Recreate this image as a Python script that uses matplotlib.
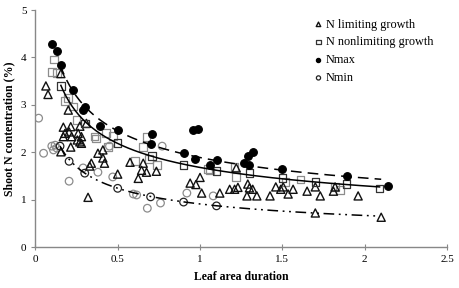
import numpy as np
import matplotlib
matplotlib.use("Agg")
import matplotlib.pyplot as plt

# N limiting growth (triangles)
tri_x = [0.064, 0.077, 0.155, 0.20, 0.17, 0.18, 0.17, 0.215, 0.205, 0.22, 0.26, 0.28, 0.27, 0.255,
         0.28, 0.215, 0.31, 0.155, 0.27, 0.34, 0.33, 0.32, 0.38, 0.41, 0.41, 0.42, 0.50, 0.575,
         0.655, 0.645, 0.625, 0.675, 0.735, 0.94, 0.975, 1.0, 1.01, 1.12, 1.18, 1.21, 1.23,
         1.22, 1.285, 1.29, 1.30, 1.32, 1.345, 1.425, 1.46, 1.49, 1.505, 1.535, 1.565, 1.65,
         1.70, 1.73, 1.81, 1.82, 1.96, 1.70, 2.10]
tri_y = [3.40, 3.22, 3.66, 2.89, 2.53, 2.40, 2.33, 2.54, 2.43, 2.33, 2.40, 2.33, 2.55, 2.26,
         2.19, 2.11, 2.61, 2.01, 2.22, 1.77, 1.71, 1.05, 1.98, 2.05, 1.88, 1.77, 1.54, 1.79,
         1.77, 1.62, 1.45, 1.58, 1.60, 1.35, 1.32, 1.47, 1.14, 1.14, 1.22, 1.22, 1.26,
         1.67, 1.08, 1.33, 1.25, 1.22, 1.08, 1.08, 1.27, 1.22, 1.27, 1.12, 1.22, 1.18,
         1.27, 1.08, 1.18, 1.27, 1.08, 0.72, 0.63]

# N nonlimiting growth (grey squares)
sq_x = [0.113, 0.10, 0.13, 0.18, 0.20, 0.23, 0.25, 0.36, 0.37, 0.43, 0.47, 0.44, 0.675,
        0.655, 0.605, 0.69, 0.74, 1.05, 1.06, 1.21, 1.22, 1.52, 1.61, 1.82, 1.85]
sq_y = [3.96, 3.70, 3.67, 3.08, 3.14, 2.97, 2.68, 2.33, 2.29, 2.41, 2.34, 2.11, 2.32,
        2.11, 1.81, 1.86, 1.73, 1.65, 1.62, 1.69, 1.48, 1.37, 1.43, 1.27, 1.20]
# N nonlimiting growth (dark squares on fitted curve)
sqf_x = [0.155, 0.30, 0.50, 0.71, 0.90, 1.10, 1.30, 1.50, 1.70, 1.89, 2.09]
sqf_y = [3.40, 2.61, 2.19, 1.92, 1.73, 1.60, 1.56, 1.46, 1.37, 1.33, 1.24]

# Nmax (filled circles)
nmax_x = [0.10, 0.13, 0.155, 0.23, 0.29, 0.30, 0.39, 0.50, 0.70, 0.71, 0.96, 0.99, 0.90,
          0.97, 1.06, 1.10, 1.27, 1.29, 1.30, 1.32, 1.50, 1.89, 2.14]
nmax_y = [4.28, 4.14, 3.84, 3.31, 2.89, 2.96, 2.55, 2.46, 2.17, 2.39, 2.47, 2.50, 1.98,
          1.86, 1.73, 1.84, 1.77, 1.92, 1.73, 2.00, 1.65, 1.50, 1.29]

# Nmin (dark open circles on curve)
nmin_x = [0.15, 0.205, 0.30, 0.50, 0.70, 0.90, 1.10]
nmin_y = [2.13, 1.81, 1.56, 1.24, 1.06, 0.95, 0.87]
# grey open circles
circ_x = [0.02, 0.05, 0.10, 0.12, 0.13, 0.11, 0.205, 0.29, 0.38, 0.47, 0.45, 0.595, 0.615,
          0.68, 0.76, 0.77, 0.92, 1.08]
circ_y = [2.72, 1.98, 2.13, 2.15, 2.09, 2.05, 1.39, 1.67, 1.58, 1.48, 2.13, 1.12, 1.10,
          0.82, 0.93, 2.13, 1.14, 1.08]

# fitted power curves y = a * x^-b
nmax_a, nmax_b, nmax_range = 1.89, 0.375, (0.15, 2.1)
nnl_a, nnl_b, nnl_range = 1.68, 0.38, (0.155, 2.09)
nmin_a, nmin_b, nmin_range = 0.91, 0.448, (0.15, 2.09)

plt.rcParams['font.family'] = ['Liberation Serif', 'DejaVu Serif']

fig = plt.figure(figsize=(4.59, 2.88), dpi=100)
ax = fig.add_axes([0.077, 0.142, 0.897, 0.823])

ms = 30
ax.scatter(circ_x, circ_y, s=ms, marker='o', facecolors='none', edgecolors='#8c8c8c', linewidths=0.9, zorder=2)
ax.scatter(sq_x, sq_y, s=ms, marker='s', facecolors='none', edgecolors='#8c8c8c', linewidths=0.9, zorder=2)
ax.scatter(tri_x, tri_y, s=34, marker='^', facecolors='none', edgecolors='#111111', linewidths=1.0, zorder=3,
           label='N limiting growth')
ax.scatter(sqf_x, sqf_y, s=ms, marker='s', facecolors='none', edgecolors='#333333', linewidths=0.9, zorder=3,
           label='N nonlimiting growth')
ax.scatter(nmax_x, nmax_y, s=ms, marker='o', facecolors='black', edgecolors='black', linewidths=0.9, zorder=3,
           label='Nmax')
ax.scatter(nmin_x, nmin_y, s=ms, marker='o', facecolors='none', edgecolors='#222222', linewidths=0.9, zorder=3,
           label='Nmin')

xx = np.linspace(*nmax_range, 200)
ax.plot(xx, nmax_a * xx ** -nmax_b, color='black', lw=1.1, ls=(0, (7, 4)), zorder=4)
xx = np.linspace(*nnl_range, 200)
ax.plot(xx, nnl_a * xx ** -nnl_b, color='black', lw=1.1, ls='-', zorder=4)
xx = np.linspace(*nmin_range, 200)
ax.plot(xx, nmin_a * xx ** -nmin_b, color='black', lw=1.1, ls=(0, (7, 3, 1.2, 3, 1.2, 3)), zorder=4)

ax.set_xlim(0, 2.5)
ax.set_ylim(0, 5)
ax.set_xticks([0, 0.5, 1, 1.5, 2, 2.5])
ax.set_xticklabels(['0', '0.5', '1', '1.5', '2', '2.5'])
ax.set_yticks([0, 1, 2, 3, 4, 5])
for s in ['top', 'right']:
    ax.spines[s].set_visible(False)
for s in ['left', 'bottom']:
    ax.spines[s].set_color('#888888')
    ax.spines[s].set_linewidth(1.0)
ax.tick_params(axis='both', colors='#888888', labelcolor='black', labelsize=8, length=3, direction='out')
ax.tick_params(axis='x', direction='inout', length=5)

ax.set_xlabel('Leaf area duration', fontsize=8.5, fontweight='bold', labelpad=5)
ax.set_ylabel('Shoot N contentration (%)', fontsize=8.5, fontweight='bold', labelpad=4)

leg = ax.legend(loc='upper left', bbox_to_anchor=(0.658, 0.985), frameon=False, fontsize=8.8,
                handletextpad=0.0, labelspacing=0.48, markerscale=0.55, borderaxespad=0, handlelength=1.2)

fig.savefig('out.png', dpi=100)
